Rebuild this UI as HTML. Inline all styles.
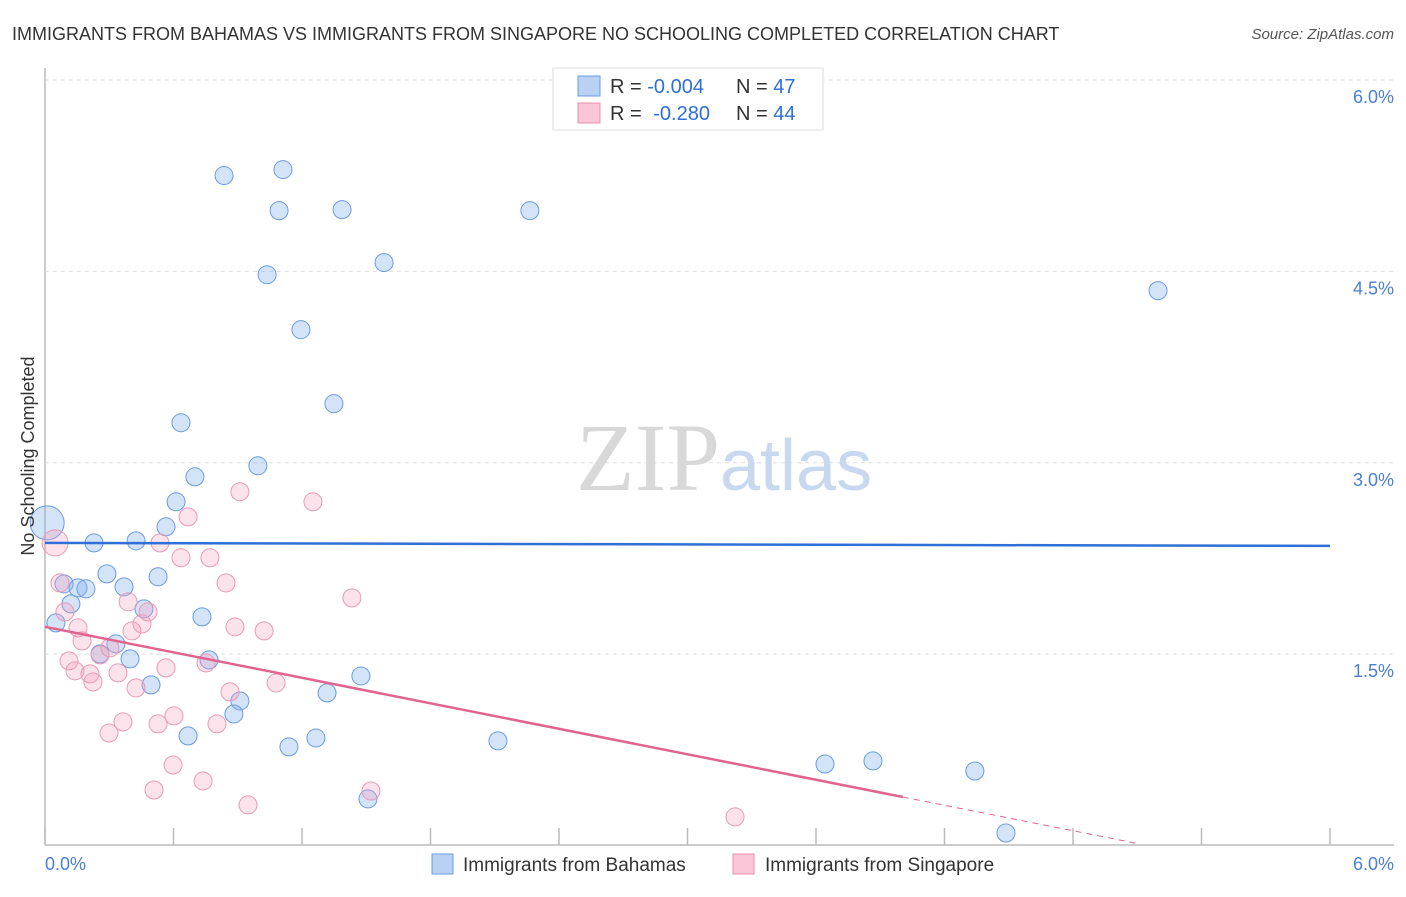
<!DOCTYPE html>
<html><head><meta charset="utf-8"><style>
body{margin:0;background:#fff;font-family:"Liberation Sans",sans-serif}
</style></head><body>
<svg width="1406" height="892" xmlns="http://www.w3.org/2000/svg" font-family="Liberation Sans, sans-serif">
<text x="12" y="40" font-size="18" fill="#333">IMMIGRANTS FROM BAHAMAS VS IMMIGRANTS FROM SINGAPORE NO SCHOOLING COMPLETED CORRELATION CHART</text>
<text x="1394" y="39" font-size="15" fill="#555" font-style="italic" text-anchor="end">Source: ZipAtlas.com</text>
<g id="grid"></g>
<text x="720" y="490" font-size="96" fill="#d8d8d8" text-anchor="end" font-family="Liberation Serif, serif">ZIP</text>
<text x="720" y="490" font-size="72" fill="#c8d8ee">atlas</text>
<g id="pts"></g>
<g id="lines"></g>
<text transform="translate(34,456) rotate(-90)" font-size="18" fill="#333" text-anchor="middle">No Schooling Completed</text>
<text x="45" y="870" font-size="18" fill="#4a7fd4">0.0%</text>
<text x="1394" y="870" font-size="18" fill="#4a7fd4" text-anchor="end">6.0%</text>
<g>
<rect x="553" y="68" width="270" height="62" fill="#fff" stroke="#ddd"/>
<rect x="578" y="76" width="22" height="20" fill="#b9d2f3" stroke="#6a9be0"/>
<rect x="578" y="103" width="22" height="20" fill="#f8c6d6" stroke="#e890b0"/>
<text x="610" y="93" font-size="20" fill="#333">R = <tspan fill="#2f6fd6">-0.004</tspan><tspan x="736">N = </tspan><tspan fill="#2f6fd6">47</tspan></text>
<text x="610" y="120" font-size="20" fill="#333">R = <tspan fill="#2f6fd6" dx="6">-0.280</tspan><tspan x="736">N = </tspan><tspan fill="#2f6fd6">44</tspan></text>
</g>
<g><rect x="432" y="854" width="21" height="20" fill="#b9d2f3" stroke="#6a9be0"/><text x="463" y="871" font-size="19" fill="#333">Immigrants from Bahamas</text></g>
<g><rect x="733" y="854" width="21" height="20" fill="#f8c6d6" stroke="#e890b0"/><text x="765" y="871" font-size="19" fill="#333">Immigrants from Singapore</text></g>
</svg>
<script>
const yTicks=[1.5,3.0,4.5,6.0];
const yTickLabels=["1.5%","3.0%","4.5%","6.0%"];
const xTicks=[0,0.6,1.2,1.8,2.4,3.0,3.6,4.2,4.8,5.4,6.0];
const bahamasX=[0.836,1.111,1.093,1.387,2.264,1.037,1.583,5.197,1.195,1.349,0.635,0.700,0.994,0.612,0.565,0.229,0.425,0.289,0.528,0.089,0.154,0.191,0.369,0.121,0.462,0.733,0.051,0.331,0.257,0.397,0.766,1.475,0.495,1.317,0.910,0.882,0.668,1.139,1.265,2.115,3.642,3.866,4.342,1.508,4.487,0.01];
const bahamasY=[5.251,5.298,4.976,4.984,4.976,4.474,4.569,4.349,4.043,3.463,3.314,2.890,2.976,2.694,2.498,2.372,2.388,2.129,2.106,2.051,2.019,2.012,2.027,1.894,1.855,1.792,1.745,1.580,1.502,1.463,1.455,1.329,1.259,1.196,1.133,1.031,0.859,0.773,0.843,0.820,0.639,0.663,0.584,0.365,0.098,2.529];
const singaporeX=[0.047,0.070,0.093,0.154,0.173,0.112,0.140,0.210,0.224,0.257,0.303,0.388,0.453,0.481,0.406,0.341,0.425,0.537,0.668,0.635,0.770,0.910,1.251,0.845,1.433,0.887,1.023,0.565,0.752,0.864,1.079,0.602,0.528,0.364,0.299,0.803,0.598,0.738,0.509,0.948,1.522,3.222];
const singaporeY=[2.372,2.058,1.831,1.706,1.604,1.447,1.369,1.345,1.282,1.494,1.549,1.910,1.737,1.831,1.682,1.353,1.235,2.372,2.576,2.255,2.255,2.773,2.694,2.058,1.941,1.714,1.682,1.392,1.431,1.204,1.274,1.016,0.953,0.969,0.882,0.953,0.631,0.506,0.435,0.318,0.427,0.224];
const bahamasTrend=[2.372,-0.004];
const singaporeTrend=[1.714,-0.333];
const singaporeSolidEnd=4.006, singaporeDashEnd=5.113;
const NS="http://www.w3.org/2000/svg";
const X=v=>45+v/6*1285, Y=v=>845.5-v/6*765.5;
function mk(t,a,p){const e=document.createElementNS(NS,t);for(const k in a)e.setAttribute(k,a[k]);p.appendChild(e);return e;}
const grid=document.getElementById('grid');
const ax=mk('line',{x1:45,y1:68,x2:45,y2:845,stroke:'#bbb','stroke-width':1.5},grid);


const bx=mk('line',{x1:45,y1:845,x2:1394,y2:845,stroke:'#bbb','stroke-width':1.5},grid);


yTicks.forEach((v,i)=>{
 const g=mk('line',{x1:45,y1:Y(v),x2:1394,y2:Y(v),stroke:'#ddd','stroke-dasharray':'4,4'},grid);
 
 
 const t=mk('text',{x:1394,y:Y(v)+23,'font-size':18,fill:'#4a7fd4','text-anchor':'end'},grid);
 t.textContent=yTickLabels[i];
 
 
});
xTicks.forEach(v=>{
 const t=mk('line',{x1:X(v),y1:828,x2:X(v),y2:845,stroke:'#bbb','stroke-width':1.5},grid);
 
 
});
const pts=document.getElementById('pts');
bahamasX.forEach((x,i)=>{
 const c=mk('circle',{cx:X(x),cy:Y(bahamasY[i]),r:i==bahamasX.length-1?17:9,fill:'rgba(130,175,235,0.35)',stroke:'#6a9be0','stroke-width':1},pts);
 
 
});
singaporeX.forEach((x,i)=>{
 const c=mk('circle',{cx:X(x),cy:Y(singaporeY[i]),r:i==0?13:9,fill:'rgba(245,160,190,0.3)',stroke:'#e99ab8','stroke-width':1},pts);
 
 
});
const L=document.getElementById('lines');
const l1=mk('line',{x1:X(0),y1:Y(bahamasTrend[0]),x2:X(6),y2:Y(bahamasTrend[0]+6*bahamasTrend[1]),stroke:'#2f6fd6','stroke-width':2.5},L);


const l2=mk('line',{x1:X(0),y1:Y(singaporeTrend[0]),x2:X(singaporeSolidEnd),y2:Y(singaporeTrend[0]+singaporeSolidEnd*singaporeTrend[1]),stroke:'#e0648f','stroke-width':2.5},L);


const l3=mk('line',{x1:X(singaporeSolidEnd),y1:Y(singaporeTrend[0]+singaporeSolidEnd*singaporeTrend[1]),x2:X(singaporeDashEnd),y2:Y(singaporeTrend[0]+singaporeDashEnd*singaporeTrend[1]),stroke:'#e0648f','stroke-width':1,'stroke-dasharray':'6,5'},L);


</script>
</body></html>
